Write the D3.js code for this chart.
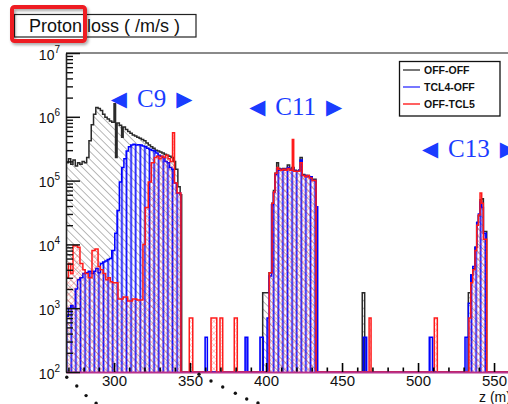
<!DOCTYPE html>
<html><head><meta charset="utf-8">
<script src="https://cdn.jsdelivr.net/npm/d3@7"></script>
<style>html,body{margin:0;padding:0;background:#fff;} svg{display:block;}</style>
</head><body><svg id="c" width="508" height="404"></svg>
<script>
// ---------------- data ----------------
const chartTitle = "Proton loss ( /m/s )";
const seriesNames = ["OFF-OFF", "TCL4-OFF", "OFF-TCL5"];
const xTickLabels = [300, 350, 400, 450, 500, 550];
const yDecades = [2, 3, 4, 5, 6, 7];
const xAxisTitle = "z (m)";
const sectionNames = ["C9", "C11", "C13"];
const sectionZ = [324.7, 419.5, 533.5];        // centre of each label (m)
const sectionLogY = [6.15, 6.03, 5.37];        // baseline of each label (log10 units)

// histogram step points: [z low edge (m), loss]; 0 = empty
const offOff = [
 [268.4,1.9e5],[270,2.2e5],[271.5,1.8e5],[273,2.1e5],[274.5,1.7e5],[276,1.9e5],[277.5,1.8e5],[279,2.0e5],
 [280.5,1.9e5],[282,2.3e5],[283.5,4.2e5],[285,7.5e5],[286.5,1.1e6],[288,1.4e6],[289.5,1.35e6],[291,1.25e6],
 [292.5,1.1e6],[294,9.8e5],[295.5,9.2e5],[297,8.6e5],[298.5,8.2e5],[300,1.6e6],[301,2.3e5],[302,8.0e5],
 [303.5,7.4e5],[305,4.8e5],[306,6.9e5],[307.5,6.3e5],[309,5.9e5],[310.5,5.5e5],[312,5.2e5],[313.5,5.0e5],
 [315,4.8e5],[316.5,4.6e5],[318,4.4e5],[319.5,4.2e5],[321,3.9e5],[322.5,3.6e5],[324,3.4e5],[325.5,3.2e5],
 [327,3.0e5],[328.5,2.9e5],[330,2.8e5],[331.5,2.7e5],[333,2.6e5],[334.5,2.5e5],[336,2.4e5],[337.5,2.3e5],
 [339,2.0e5],[340.5,1.5e5],[342,8e4],[343.5,6e4],[344.5,0],
 [397.8,1.75e3],[402,3.6e3],[403.9,4.4e4],[404.9,7e4],[405.9,1.3e5],[407,1.9e5],[408.2,1.55e5],[409.5,1.5e5],
 [411,1.55e5],[412.5,1.5e5],[414,1.75e5],[415.5,1.5e5],[417,1.6e5],[418.5,1.45e5],[420,1.4e5],[421.5,1.45e5],
 [422.4,2.3e5],[423.8,1.25e5],[425.5,1.2e5],[427,1.2e5],[428.5,1.15e5],[430.3,1.05e5],[432.9,0],
 [463.3,1.75e3],[464.9,0],
 [533.1,1.75e3],[534.7,3.3e3],[536,4.2e3],[537.5,9e3],[538.6,2.2e4],[539.7,2.8e4],[540.8,5e4],[541.9,5.2e4],
 [543,1.6e4],[545.2,0],[570,0]
];
const tcl4Off = [
 [268.4,7.5e2],[270,1.0e3],[271.5,1.1e3],[273,1.0e3],[274.5,2.0e3],[276,2.8e3],[277.5,3.0e3],[279.5,3.5e3],
 [281,3.6e3],[283,3.8e3],[285,3.5e3],[286.5,3.8e3],[288,4.2e3],[289.5,3.6e3],[291,5.0e3],[292.5,5.3e3],
 [294,5.5e3],[295.5,5.8e3],[297,6.0e3],[298.5,8.0e3],[300.5,1.5e4],[302,3.4e4],[303.5,9.5e4],[305,1.6e5],
 [306.5,2.2e5],[308,2.9e5],[309.5,3.4e5],[311,3.6e5],[312.5,3.7e5],[314,3.6e5],[315.5,3.65e5],[317,3.6e5],
 [318.5,3.5e5],[320,3.4e5],[321.5,3.2e5],[323,3.1e5],[324.5,3.0e5],[326,2.9e5],[327.5,2.7e5],[329,2.5e5],
 [330.5,2.4e5],[332,2.3e5],[333.5,2.0e5],[335,1.9e5],[336.5,1.6e5],[338,1.5e5],[339.5,9.2e4],[341,6.4e4],[343.8,0],
 [359.9,3.5e2],[361.4,0],
 [386.2,3.5e2],[388,0],
 [396,3.5e2],[398.2,0],[400.7,7e2],[402,3.2e3],[403.6,4.2e4],[404.8,6.5e4],[405.9,1.25e5],[407,1.55e5],
 [408.2,1.45e5],[409.5,1.5e5],[411,1.45e5],[412.5,1.5e5],[414,1.6e5],[415.5,1.45e5],[417,1.5e5],[418.5,1.4e5],
 [420,1.4e5],[421.5,1.45e5],[422.4,2.1e5],[423.8,1.2e5],[425.5,1.2e5],[427,1.15e5],[428.5,1.15e5],[430.3,1.0e5],
 [432.9,3.9e4],[434,0],
 [464,3.5e2],[466.2,0],
 [507.4,3.5e2],[509.6,0],
 [530.9,3.5e2],[533.1,1.2e3],[534.7,3.3e3],[536,4.5e3],[537.5,9e3],[538.6,2.2e4],[539.7,3.0e4],[540.8,4.6e4],
 [541.9,3.8e4],[543,1.5e4],[544.8,0],[570,0]
];
const offTcl5 = [
 [268.4,3.0e3],[270,5.0e3],[271.5,3.5e3],[273,9.5e3],[276,9.0e3],[277.6,5.0e3],[279.5,4.0e3],[281,3.5e3],
 [283,3.0e3],[285.5,8.0e3],[287.5,8.5e3],[289.5,4.5e3],[291,4.0e3],[292.8,3.5e3],[294.5,2.8e3],[296,3.0e3],
 [297.5,2.6e3],[299,2.5e3],[302.6,1.4e3],[306,1.5e3],[309,1.3e3],[312,1.4e3],[315,1.35e3],[319,1.0e4],
 [320.5,3.8e4],[322.5,9.5e4],[324.5,1.9e5],[326.5,2.3e5],[328,2.4e5],[329.5,2.2e5],[331,2.4e5],[332.5,2.3e5],
 [334,2.5e5],[335.5,2.2e5],[337,2.0e5],[338.5,5.6e5],[339.8,9.2e4],[341.5,6.4e4],[344,0],
 [349.5,7e2],[351.8,0],
 [363.8,7e2],[367.6,0],
 [369.7,7e2],[371.5,0],
 [379.1,7e2],[381.1,0],
 [402.1,3.6e3],[403.9,4.4e4],[404.9,6.6e4],[405.9,1.3e5],[407.2,1.6e5],[408.2,1.5e5],[409.5,1.45e5],[411,1.5e5],
 [412.5,1.45e5],[414,1.55e5],[415.5,1.45e5],[417.3,4.4e5],[418.2,1.4e5],[420,1.4e5],[421.5,1.4e5],[422.4,1.9e5],
 [423.8,1.2e5],[425.5,1.15e5],[427,1.2e5],[428.5,1.1e5],[430.3,1.0e5],[432.9,0],
 [467.8,7e2],[469.1,0],
 [510.7,7e2],[512.7,0],
 [533.5,7e2],[534.7,2.5e3],[536,4.0e3],[537.5,8.0e3],[538.6,2.0e4],[539.7,2.9e4],[540.8,6.4e4],[541.9,4.4e4],
 [543,1.2e4],[545.2,0],[570,0]
];
// dotted decoration below the axis: [z (m), log10 units]
const decoDots = [[268.9,1.917],[275.5,1.78],[281.6,1.63],[288.2,1.51],
 [355.9,1.964],[363.8,1.86],[371.5,1.765],[379.8,1.666],[387.3,1.577],[394.7,1.514]];

// ---------------- drawing ----------------
const svg = d3.select("#c");
const L = 66, T = 53, B = 372;
const x = d3.scaleLinear().domain([268.4, 570]).range([L, L + 301.6 * 1.52]);
const y = d3.scaleLog().domain([1e2, 1e7]).range([B, T]);
const yv = v => v < 100 ? y(100) : y(v);

const defs = svg.append("defs");
defs.append("clipPath").attr("id", "plot").append("rect")
  .attr("x", L).attr("y", T).attr("width", 508 - L).attr("height", B - T);
// hatch patterns
const pb = defs.append("pattern").attr("id", "hb").attr("patternUnits", "userSpaceOnUse")
  .attr("width", 5.5).attr("height", 5.5).attr("patternTransform", "rotate(-45)");
pb.append("line").attr("x1", 0).attr("y1", 0).attr("x2", 0).attr("y2", 5.5)
  .attr("stroke", "#707070").attr("stroke-width", 1.0);
const pu = defs.append("pattern").attr("id", "hu").attr("patternUnits", "userSpaceOnUse")
  .attr("width", 4.6).attr("height", 10);
pu.append("line").attr("x1", 2.3).attr("y1", 0).attr("x2", 2.3).attr("y2", 10)
  .attr("stroke", "#1414ff").attr("stroke-width", 1.8);
const pr = defs.append("pattern").attr("id", "hr").attr("patternUnits", "userSpaceOnUse")
  .attr("width", 4.2).attr("height", 4.2).attr("patternTransform", "rotate(45)");
pr.append("line").attr("x1", 0).attr("y1", 0).attr("x2", 0).attr("y2", 4.2)
  .attr("stroke", "#ff3030").attr("stroke-width", 0.8).attr("opacity", 0.6);
pr.append("line").attr("x1", 0).attr("y1", 0).attr("x2", 4.2).attr("y2", 0)
  .attr("stroke", "#ff3030").attr("stroke-width", 0.8).attr("opacity", 0.6);
const sh = defs.append("filter").attr("id", "shadow").attr("x", "-20%").attr("y", "-20%")
  .attr("width", "150%").attr("height", "160%");
sh.append("feDropShadow").attr("dx", 1.5).attr("dy", 2).attr("stdDeviation", 1.5)
  .attr("flood-color", "#000").attr("flood-opacity", 0.35);

const plot = svg.append("g").attr("clip-path", "url(#plot)");
const area = d3.area().curve(d3.curveStepAfter).x(d => x(d[0])).y0(y(100)).y1(d => yv(d[1]));
const line = d3.line().curve(d3.curveStepAfter).x(d => x(d[0])).y(d => yv(d[1]));
const series = [
  { data: offOff, fill: "url(#hb)", stroke: "#2a2a2a", lc: "#555555" },
  { data: tcl4Off, fill: "url(#hu)", stroke: "#0000ff", lc: "#5555ff" },
  { data: offTcl5, fill: "url(#hr)", stroke: "#ff1a1a", lc: "#ff3a3a" }
];
series.forEach(s => {
  plot.append("path").datum(s.data).attr("d", area).attr("fill", s.fill);
  plot.append("path").datum(s.data).attr("d", line).attr("fill", "none")
    .attr("stroke", s.stroke).attr("stroke-width", 1.5).attr("stroke-linejoin", "miter");
});

// top frame
svg.append("line").attr("x1", L).attr("x2", 508).attr("y1", T).attr("y2", T)
  .attr("stroke", "#8a8a8a").attr("stroke-width", 2.2);

// x axis (ticks inside)
const xMinor = d3.range(270, 571, 10);
const gx = svg.append("g").attr("transform", `translate(0,${B})`);
gx.call(d3.axisBottom(x).tickValues(xMinor.filter(v => v % 50 !== 0)).tickSize(-4.5).tickSizeOuter(0).tickFormat(""));
gx.call(g => g.select(".domain").remove());
const gx2 = svg.append("g").attr("transform", `translate(0,${B})`);
gx2.call(d3.axisBottom(x).tickValues(xTickLabels).tickSize(-9).tickSizeOuter(0).tickPadding(12));
gx2.select(".domain").attr("stroke", "#b8338c").attr("stroke-width", 2.2);
gx2.selectAll(".tick line").attr("stroke", "#000").attr("stroke-width", 1.6);
gx.selectAll(".tick line").attr("stroke", "#000").attr("stroke-width", 1.6);
gx2.selectAll(".tick text").attr("font-family", "Liberation Sans, Arial, sans-serif")
  .attr("font-size", 15).attr("fill", "#111").attr("dy", "0.15em");

// y axis
const yMinor = [];
yDecades.slice(0, -1).forEach(e => { for (let k = 2; k <= 9; k++) yMinor.push(k * Math.pow(10, e)); });
const gy = svg.append("g").attr("transform", `translate(${L},0)`);
gy.call(d3.axisLeft(y).tickValues(yMinor).tickSize(-7).tickSizeOuter(0).tickFormat(""));
gy.select(".domain").remove();
gy.selectAll(".tick line").attr("stroke", "#111").attr("stroke-width", 1.4);
const gy2 = svg.append("g").attr("transform", `translate(${L},0)`);
gy2.call(d3.axisLeft(y).tickValues(yDecades.map(e => Math.pow(10, e))).tickSize(-14).tickSizeOuter(0).tickFormat(""));
gy2.select(".domain").attr("stroke", "#222").attr("stroke-width", 1.6);
gy2.selectAll(".tick line").attr("stroke", "#111").attr("stroke-width", 1.5);
gy2.selectAll(".tick").each(function (d) {
  const t = d3.select(this).append("text").attr("x", -6).attr("y", 6)
    .attr("text-anchor", "end").attr("fill", "#111")
    .attr("font-family", "Liberation Sans, Arial, sans-serif").attr("font-size", 14);
  t.append("tspan").text("10");
  t.append("tspan").attr("dy", -7).attr("font-size", 10).text(Math.round(Math.log10(d)));
});

// axis title (partly beyond the right edge, as in the reference)
svg.append("text").attr("x", 479).attr("y", 402).attr("font-family", "Liberation Sans, Arial, sans-serif")
  .attr("font-size", 14).attr("fill", "#111").text(xAxisTitle);

// decoration dots
svg.selectAll("circle.dd").data(decoDots).join("circle").attr("class", "dd")
  .attr("cx", d => x(d[0])).attr("cy", d => y(Math.pow(10, d[1]))).attr("r", 1.7).attr("fill", "#111");

// section labels
sectionNames.forEach((n, i) => {
  const g = svg.append("text").attr("x", x(sectionZ[i])).attr("y", y(Math.pow(10, sectionLogY[i])))
    .attr("text-anchor", "middle").attr("fill", "#1a3cff");
  g.append("tspan").attr("font-family", "DejaVu Sans").attr("font-size", 21).attr("dy", -1).text("\u25C0");
  g.append("tspan").attr("font-family", "Liberation Serif, Times New Roman, serif").attr("font-size", 25)
    .attr("dx", 10).attr("dy", 1).text(n);
  g.append("tspan").attr("font-family", "DejaVu Sans").attr("font-size", 21).attr("dx", 10).attr("dy", -1).text("\u25B6");
});

// legend
const lg = svg.append("g");
lg.append("rect").attr("x", 399.5).attr("y", 61.5).attr("width", 100.5).attr("height", 54.5)
  .attr("fill", "#fff").attr("stroke", "#111").attr("stroke-width", 1.3);
seriesNames.forEach((n, i) => {
  const yy = 70 + i * 17;
  lg.append("line").attr("x1", 403).attr("x2", 420).attr("y1", yy).attr("y2", yy)
    .attr("stroke", series[i].lc).attr("stroke-width", 1.6);
  lg.append("text").attr("x", 424).attr("y", yy + 4).attr("font-family", "Liberation Sans, Arial, sans-serif")
    .attr("font-weight", "bold").attr("font-size", 10.5).attr("fill", "#111").text(n);
});

// title box
svg.append("rect").attr("x", 14.5).attr("y", 14.5).attr("width", 181.5).attr("height", 22.5)
  .attr("fill", "#fff").attr("stroke", "#222").attr("stroke-width", 1.2);
svg.append("text").attr("x", 29).attr("y", 32).attr("font-family", "Liberation Sans, Arial, sans-serif")
  .attr("font-size", 18).attr("fill", "#111").text(chartTitle);
// red highlight
svg.append("rect").attr("x", 12).attr("y", 7).attr("width", 73).attr("height", 34).attr("rx", 2.5)
  .attr("fill", "none").attr("stroke", "#ee1c24").attr("stroke-width", 4).attr("filter", "url(#shadow)");
</script></body></html>
